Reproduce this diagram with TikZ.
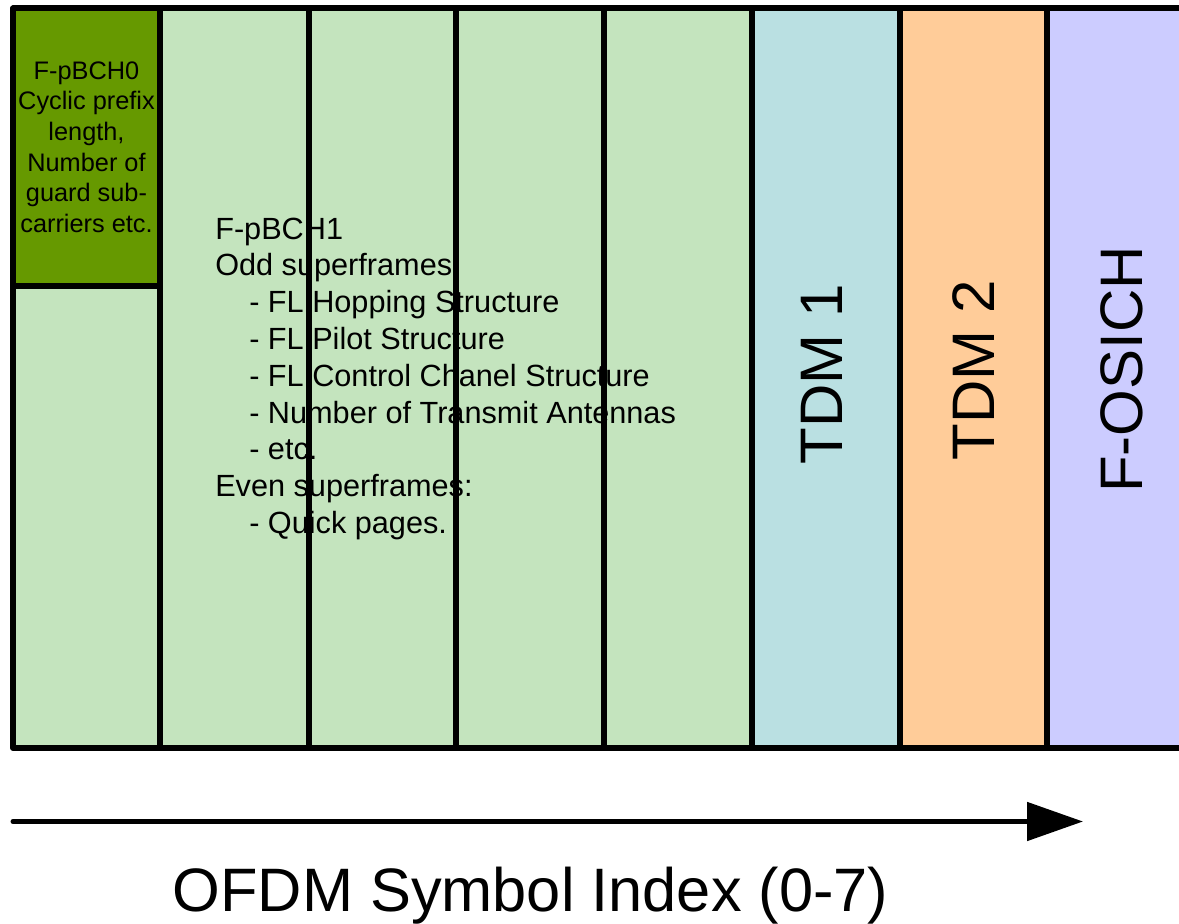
\documentclass[tikz,border=0pt]{standalone}
\usepackage{fontspec}
\setmainfont{Liberation Sans}
\usetikzlibrary{arrows.meta}
\definecolor{lgreen}{RGB}{196,228,190}
\definecolor{dgreen}{RGB}{102,153,0}
\definecolor{tdmone}{RGB}{186,224,226}
\definecolor{tdmtwo}{RGB}{255,204,153}
\definecolor{osich}{RGB}{204,204,255}
\begin{document}
\begin{tikzpicture}[x=0.75pt,y=-0.75pt,
  gridline/.style={line width=4.5pt, line join=round, line cap=round},
  celltext/.style={inner sep=0pt, font=\fontsize{19}{22.9}\selectfont, align=center},
  bodytext/.style={inner sep=0pt, font=\fontsize{23}{27.6}\selectfont, align=left},
  vlabel/.style={inner sep=0pt, rotate=90, font=\fontsize{45}{50}\selectfont},
  axislabel/.style={inner sep=0pt, font=\fontsize{46}{52}\selectfont}]
\clip (0,0) rectangle (1179,924);
% fills
\fill[lgreen] (13,8.5) rectangle (752,748);
\fill[dgreen] (13,8.5) rectangle (160,285.5);
\fill[tdmone] (752,8.5) rectangle (900,748);
\fill[tdmtwo] (900,8.5) rectangle (1047,748);
\fill[osich] (1047,8.5) rectangle (1200,748);
% texts
\node[celltext, anchor=north] (pbch0) at (86.5,61.5) {F-pBCH0\\Cyclic prefix\\length,\\Number of\\guard sub-\\carriers etc.};
\node[bodytext, anchor=north west] (pbch1) at (215,217.5) {F-pBCH1\\Odd superframes\\\hspace*{25.5pt}- FL Hopping Structure\\\hspace*{25.5pt}- FL Pilot Structure\\\hspace*{25.5pt}- FL Control Chanel Structure\\\hspace*{25.5pt}- Number of Transmit Antennas\\\hspace*{25.5pt}- etc.\\Even superframes:\\\hspace*{25.5pt}- Quick pages.};
\node[vlabel] (tdm1) at (822,374) {TDM 1};
\node[vlabel] (tdm2) at (974,370) {TDM 2};
\node[vlabel] (fosich) at (1122,369.5) {F-OSICH};
% grid lines
\draw[gridline] (1200,8.5) -- (13,8.5) -- (13,748) -- (1200,748);
\foreach \x in {160,309,456,604,752,900,1047} \draw[gridline, line cap=butt] (\x,8.5) -- (\x,748);
\draw[gridline, line cap=butt] (13,285.5) -- (160,285.5);
% axis
\coordinate (a0) at (13,821.5);
\coordinate (a1) at (1083,821.5);
\draw[line width=3.75pt, line cap=round, -{Triangle[length=42pt,width=28.5pt]}] (a0) -- (a1);
\node[axislabel, anchor=base] (axis) at (530.5,911) {OFDM Symbol Index (0-7)};
\end{tikzpicture}
\end{document}
